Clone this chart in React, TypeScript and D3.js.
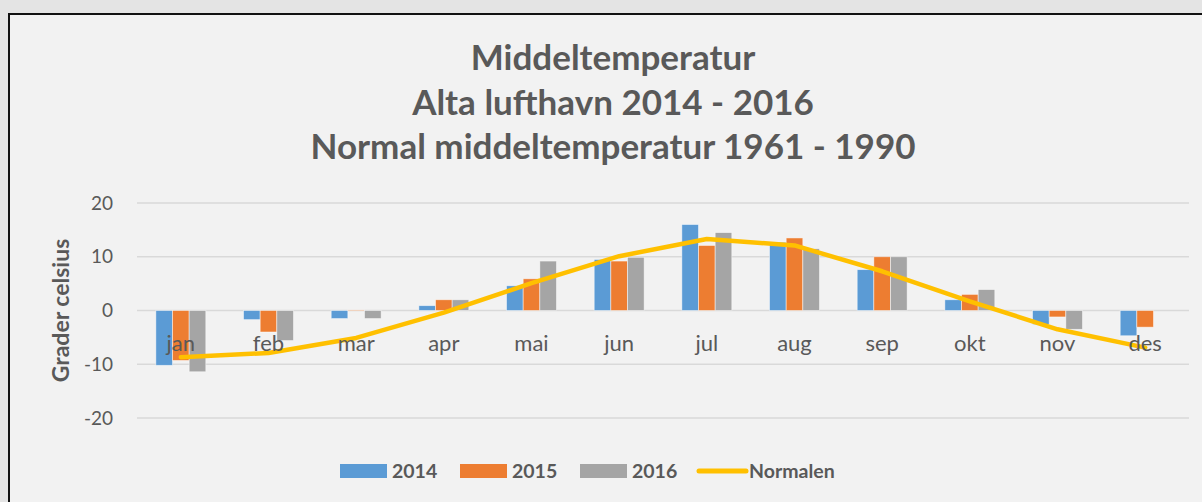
import React, { useRef, useEffect } from 'react';
import * as d3 from 'd3';

const months = ['jan', 'feb', 'mar', 'apr', 'mai', 'jun', 'jul', 'aug', 'sep', 'okt', 'nov', 'des'];
const series = ['2014', '2015', '2016'];
const values2014 = [-10.2, -1.7, -1.5, 0.9, 4.6, 9.5, 16.0, 12.7, 7.6, 2.0, -2.6, -4.7];
const values2015 = [-9.3, -4.0, 0.1, 2.0, 5.9, 9.2, 12.1, 13.5, 10.0, 3.0, -1.2, -3.1];
const values2016 = [-11.4, -5.6, -1.5, 2.0, 9.2, 9.9, 14.5, 11.5, 10.0, 3.9, -3.5, null];
const normalen = [-8.7, -7.9, -5.1, -0.4, 5.1, 10.1, 13.3, 12.1, 7.3, 1.7, -3.5, -6.9];
const yTicks = [-20, -10, 0, 10, 20];
const titleLines = ['Middeltemperatur', 'Alta lufthavn 2014 - 2016', 'Normal middeltemperatur 1961 - 1990'];

const colors = ['#5b9bd5', '#ed7d31', '#a5a5a5'];
const lineColor = '#ffc000';
const textColor = '#595959';
const font = 'Lato, "Open Sans", sans-serif';

const App = () => {
  const svgRef = useRef<SVGSVGElement>(null);

  useEffect(() => {
    const W = 1202;
    const H = 502;
    const svg = d3.select(svgRef.current);
    svg.selectAll('*').remove();

    // background + chart frame
    svg.append('rect').attr('width', W).attr('height', H).attr('fill', '#e4e4e4');
    svg.append('rect')
      .attr('x', 9).attr('y', 14)
      .attr('width', W).attr('height', H)
      .attr('fill', '#f2f2f2')
      .attr('stroke', '#111').attr('stroke-width', 2);

    // title
    svg.append('text')
      .attr('text-anchor', 'middle')
      .attr('font-family', font)
      .attr('font-weight', 'bold')
      .attr('font-size', 35)
      .attr('fill', textColor)
      .selectAll('tspan')
      .data(titleLines)
      .enter()
      .append('tspan')
      .attr('x', 613)
      .attr('y', (d, i) => 70 + i * 44.5)
      .text(d => d);

    // scales
    const left = 137;
    const right = 1189;
    const x0 = d3.scaleBand<string>()
      .domain(months)
      .range([left, right])
      .paddingInner(0.43)
      .paddingOuter(0.215);
    const x1 = d3.scaleBand<string>()
      .domain(series)
      .range([0, x0.bandwidth()]);
    const y = d3.scaleLinear().domain([-20, 20]).range([418, 203]);

    // gridlines
    svg.append('g')
      .selectAll('line')
      .data(yTicks)
      .enter()
      .append('line')
      .attr('x1', left).attr('x2', right)
      .attr('y1', d => y(d)).attr('y2', d => y(d))
      .attr('stroke', '#d9d9d9')
      .attr('stroke-width', 1.3);

    // y axis labels
    const yAxis = svg.append('g')
      .attr('transform', 'translate(118,0)')
      .call(d3.axisLeft(y).tickValues(yTicks).tickFormat(d => String(d)).tickSize(0).tickPadding(5));
    yAxis.select('.domain').remove();
    yAxis.selectAll('text')
      .attr('font-family', font)
      .attr('font-size', 19)
      .attr('fill', textColor);

    svg.append('text')
      .attr('transform', `translate(69, ${y(0)}) rotate(-90)`)
      .attr('text-anchor', 'middle')
      .attr('font-family', font)
      .attr('font-weight', 'bold')
      .attr('font-size', 23)
      .attr('fill', textColor)
      .text('Grader celsius');

    // bars
    const allSeries = [values2014, values2015, values2016];
    const barData = months.flatMap((m, i) =>
      series.map((s, j) => ({ month: m, key: s, idx: j, value: allSeries[j][i] }))
    ).filter(d => d.value !== null);

    svg.append('g')
      .selectAll('rect')
      .data(barData)
      .enter()
      .append('rect')
      .attr('x', d => x0(d.month) + x1(d.key))
      .attr('width', x1.bandwidth())
      .attr('y', d => y(Math.max(0, d.value)))
      .attr('height', d => Math.abs(y(d.value) - y(0)))
      .attr('fill', d => colors[d.idx])
      .attr('stroke', '#ffffff')
      .attr('stroke-opacity', 0.6)
      .attr('stroke-width', 0.8);

    // normal line
    const line = d3.line<number>()
      .x((d, i) => x0(months[i]) + x0.bandwidth() / 2)
      .y(d => y(d));
    svg.append('path')
      .datum(normalen)
      .attr('d', line)
      .attr('fill', 'none')
      .attr('stroke', lineColor)
      .attr('stroke-width', 4.5)
      .attr('stroke-linejoin', 'round')
      .attr('stroke-linecap', 'round');

    // x labels
    svg.append('g')
      .selectAll('text')
      .data(months)
      .enter()
      .append('text')
      .attr('x', d => x0(d) + x0.bandwidth() / 2)
      .attr('y', 351)
      .attr('text-anchor', 'middle')
      .attr('font-family', font)
      .attr('font-size', 22)
      .attr('fill', textColor)
      .text(d => d);

    // legend
    const legendItems = [
      { label: '2014', x: 340, type: 'bar', color: colors[0] },
      { label: '2015', x: 460, type: 'bar', color: colors[1] },
      { label: '2016', x: 580, type: 'bar', color: colors[2] },
      { label: 'Normalen', x: 697, type: 'line', color: lineColor },
    ];
    const legend = svg.append('g');
    legendItems.forEach(item => {
      if (item.type === 'bar') {
        legend.append('rect')
          .attr('x', item.x).attr('y', 464)
          .attr('width', 47).attr('height', 14)
          .attr('fill', item.color);
      } else {
        legend.append('line')
          .attr('x1', item.x + 2).attr('x2', item.x + 49)
          .attr('y1', 471).attr('y2', 471)
          .attr('stroke', item.color)
          .attr('stroke-width', 5)
          .attr('stroke-linecap', 'round');
      }
      legend.append('text')
        .attr('x', item.x + 52)
        .attr('y', 478)
        .attr('font-family', font)
        .attr('font-weight', 'bold')
        .attr('font-size', 19.5)
        .attr('fill', textColor)
        .text(item.label);
    });
  }, []);

  return (
    <svg
      ref={svgRef}
      width={1202}
      height={502}
      style={{ position: 'absolute', left: 0, top: 0, display: 'block' }}
    />
  );
};

export default App;
